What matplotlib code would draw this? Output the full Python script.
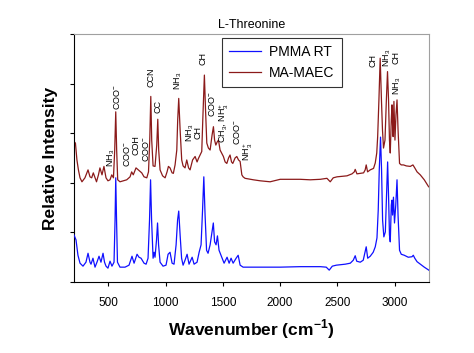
import matplotlib

matplotlib.use("Agg")

import matplotlib.pyplot as plt
import numpy as np


plt.rcParams["font.family"] = ["Liberation Sans", "DejaVu Sans"]
plt.rcParams["mathtext.fontset"] = "custom"
plt.rcParams["mathtext.rm"] = "Liberation Sans"
plt.rcParams["mathtext.bf"] = "Liberation Sans:bold"

# PMMA RT (blue)
wn_pmma = [
    200, 218, 235, 253, 279, 305, 323, 340, 349, 366, 384, 401, 419, 436, 454, 467,
    480, 497, 515, 532, 550, 559, 565, 572, 580, 602, 646, 681, 707, 725, 751, 768,
    786, 812, 830, 847, 860, 869, 878, 891, 900, 908, 921, 930, 939, 952, 978, 1004,
    1022, 1039, 1057, 1074, 1092, 1105, 1115, 1127, 1140, 1153, 1170, 1188, 1205, 1232,
    1249, 1275, 1293, 1310, 1323, 1334, 1345, 1358, 1371, 1389, 1406, 1417, 1428, 1441,
    1453, 1467, 1494, 1511, 1537, 1555, 1572, 1590, 1616, 1634, 1651, 1677, 1739, 1826,
    2001, 2176, 2351, 2403, 2429, 2456, 2491, 2569, 2613, 2639, 2656, 2669, 2700, 2726,
    2752, 2765, 2787, 2813, 2831, 2846, 2857, 2866, 2877, 2886, 2895, 2906, 2919, 2930,
    2939, 2948, 2955, 2962, 2971, 2977, 2982, 2990, 2999, 3010, 3021, 3030, 3043, 3058,
    3084, 3119, 3152, 3163, 3176, 3196, 3224, 3259, 3297, 3305,
]
int_pmma = [
    0.95, 0.85, 0.54, 0.38, 0.32, 0.40, 0.58, 0.40, 0.36, 0.48, 0.30, 0.40, 0.52, 0.40, 0.58, 0.40,
    0.32, 0.28, 0.42, 0.32, 0.40, 1.25, 2.10, 1.25, 0.40, 0.30, 0.30, 0.34, 0.52, 0.38, 0.56, 0.50,
    0.48, 0.38, 0.36, 0.48, 1.25, 2.06, 1.25, 0.48, 0.60, 0.50, 0.85, 1.19, 0.75, 0.40, 0.32, 0.34,
    0.56, 0.60, 0.38, 0.36, 0.75, 1.25, 1.43, 0.95, 0.48, 0.34, 0.44, 0.56, 0.36, 0.50,
    0.36, 0.40, 0.60, 0.75, 1.45, 2.12, 1.35, 0.64, 0.58, 0.75, 1.01, 1.19, 0.81, 0.75,
    0.93, 0.64, 0.48, 0.38, 0.50, 0.38, 0.48, 0.38, 0.48, 0.54, 0.34, 0.30, 0.30, 0.30,
    0.30, 0.31, 0.31, 0.30, 0.24, 0.32, 0.34, 0.36, 0.38, 0.44, 0.53, 0.42, 0.40, 0.44,
    0.71, 0.48, 0.52, 0.60, 0.71, 0.89, 1.45, 2.26, 2.92, 2.26, 1.25, 0.91, 1.01, 1.75,
    2.42, 1.65, 0.95, 0.81, 1.55, 1.65, 1.35, 1.71, 1.19, 1.55, 2.06, 1.35, 0.64, 0.56,
    0.54, 0.50, 0.51, 0.54, 0.48, 0.41, 0.36, 0.30, 0.24, 0.23,
]

# MA-MAEC (dark red)
wn_maec = [
    200, 213, 226, 239, 253, 270, 296, 323, 340, 355, 369, 384, 397, 414, 427, 445,
    462, 480, 497, 515, 530, 545, 556, 565, 573, 582, 602, 661, 690, 704, 718, 742,
    762, 792, 812, 836, 851, 862, 871, 879, 891, 908, 923, 932, 940, 952, 974, 996,
    1013, 1025, 1039, 1057, 1068, 1083, 1098, 1106, 1115, 1127, 1141, 1153, 1170, 1185,
    1201, 1214, 1236, 1258, 1275, 1287, 1302, 1316, 1325, 1339, 1349, 1360, 1374, 1389,
    1406, 1418, 1428, 1439, 1450, 1462, 1476, 1489, 1505, 1520, 1535, 1550, 1563, 1576,
    1587, 1607, 1622, 1637, 1651, 1666, 1677, 1694, 1767, 1826, 1913, 2001, 2176, 2263,
    2351, 2409, 2438, 2464, 2497, 2584, 2628, 2648, 2656, 2671, 2700, 2729, 2743, 2752,
    2764, 2787, 2816, 2831, 2844, 2852, 2863, 2874, 2885, 2894, 2903, 2916, 2928, 2938,
    2947, 2955, 2962, 2971, 2977, 2982, 2987, 2994, 3003, 3012, 3021, 3030, 3043, 3058,
    3078, 3102, 3137, 3160, 3176, 3196, 3224, 3259, 3297, 3305,
]
int_maec = [
    2.83, 2.80, 2.46, 2.26, 2.10, 2.02, 2.10, 2.26, 2.12, 2.10, 2.20, 2.10, 2.02, 2.16, 2.30, 2.16,
    2.33, 2.10, 2.04, 2.06, 2.16, 2.10, 2.66, 3.43, 2.66, 2.06, 2.02, 2.06, 2.12, 2.22, 2.16, 2.30,
    2.26, 2.20, 2.12, 2.10, 2.22, 2.86, 3.74, 2.86, 2.34, 2.33, 2.76, 3.28, 2.66, 2.26, 2.14, 2.10,
    2.22, 2.33, 2.30, 2.20, 2.19, 2.36, 2.66, 3.27, 3.70, 3.07, 2.46, 2.34, 2.30, 2.46,
    2.30, 2.26, 2.46, 2.53, 2.42, 2.49, 2.56, 2.63, 3.27, 4.17, 3.47, 2.80, 2.70, 2.66,
    2.96, 3.13, 2.86, 2.76, 2.82, 2.86, 2.66, 2.60, 2.53, 2.42, 2.39, 2.50, 2.56, 2.42,
    2.39, 2.50, 2.53, 2.46, 2.43, 2.16, 2.12, 2.09, 2.06, 2.04, 2.02, 2.07, 2.07, 2.06,
    2.07, 2.09, 2.02, 2.10, 2.12, 2.14, 2.18, 2.22, 2.27, 2.18, 2.19, 2.20, 2.26, 2.36,
    2.22, 2.26, 2.29, 2.40, 2.60, 2.93, 3.67, 4.51, 3.67, 3.07, 2.70, 2.86, 3.67, 4.24,
    3.67, 2.86, 2.60, 3.27, 3.57, 3.17, 2.93, 3.64, 2.86, 3.37, 3.67, 3.07, 2.39, 2.36,
    2.36, 2.34, 2.33, 2.36, 2.30, 2.22, 2.16, 2.06, 1.92, 1.91,
]

# band assignments: text, wavenumber, height of the label's lower end
band_labels = [
    "NH$_3$", "COO$^{-}$", "COO$^{-}$", "COH", "COO$^{-}$", "CCN", "CC", "NH$_3$",
    "NH$_3$\nCH", "CH", "COO$^{-}$", "CH$_3$, NH$_3^{+}$", "COO$^{-}$", "NH$_3^{+}$",
    "CH", "NH$_3$\nCH", "NH$_3$",
]
band_wn = [528, 573, 659, 743, 830, 869, 934, 1114, 1242, 1325, 1405, 1510, 1626, 1717, 2814, 2967, 3021]
band_y = [2.32, 3.47, 2.32, 2.56, 2.42, 3.93, 3.41, 3.87, 2.82, 4.38, 3.33, 2.80, 2.76, 2.44, 4.33, 4.33, 3.77]


def main():
    fig = plt.figure(figsize=(4.74, 3.53), dpi=100)
    ax = fig.add_axes([0.156, 0.201, 0.749, 0.703])

    ax.plot(wn_pmma, int_pmma, color="#1010ff", lw=0.9, label="PMMA RT", zorder=3)
    ax.plot(wn_maec, int_maec, color="#8b1a1a", lw=0.9, label="MA-MAEC", zorder=2)

    for text, x, y in zip(band_labels, band_wn, band_y):
        ax.text(x, y, text, rotation=90, ha="center", va="bottom", fontsize=6.5,
                linespacing=0.7, color="black")

    ax.set_xlim(200, 3300)
    ax.set_ylim(0, 5)
    ax.set_xticks([500, 1000, 1500, 2000, 2500, 3000])
    ax.set_yticks([0, 1, 2, 3, 4, 5])
    ax.set_yticklabels([])
    ax.tick_params(axis="x", direction="out", length=3, width=0.8, labelsize=8.5, pad=8)
    ax.tick_params(axis="y", direction="out", length=3, width=0.8)
    for side in ["top", "right"]:
        ax.spines[side].set_color("#a0a0a0")
    for side in ["left", "bottom"]:
        ax.spines[side].set_color("black")

    ax.set_title("L-Threonine", fontsize=9, pad=4)
    ax.set_xlabel("Wavenumber (cm$^{\\mathbf{-1}}$)", fontsize=12.5, fontweight="bold", labelpad=6)
    ax.set_ylabel("Relative Intensity", fontsize=12.5, fontweight="bold", labelpad=5)

    leg = ax.legend(loc="upper left", bbox_to_anchor=(0.417, 0.982), fontsize=10,
                    frameon=True, fancybox=False, borderpad=0.5, handlelength=2.3,
                    handletextpad=0.6, labelspacing=0.5, borderaxespad=0)
    leg.get_frame().set_edgecolor("black")
    leg.get_frame().set_linewidth(0.8)

    fig.savefig("out.png", dpi=100)
    plt.close(fig)


if __name__ == "__main__":
    main()
